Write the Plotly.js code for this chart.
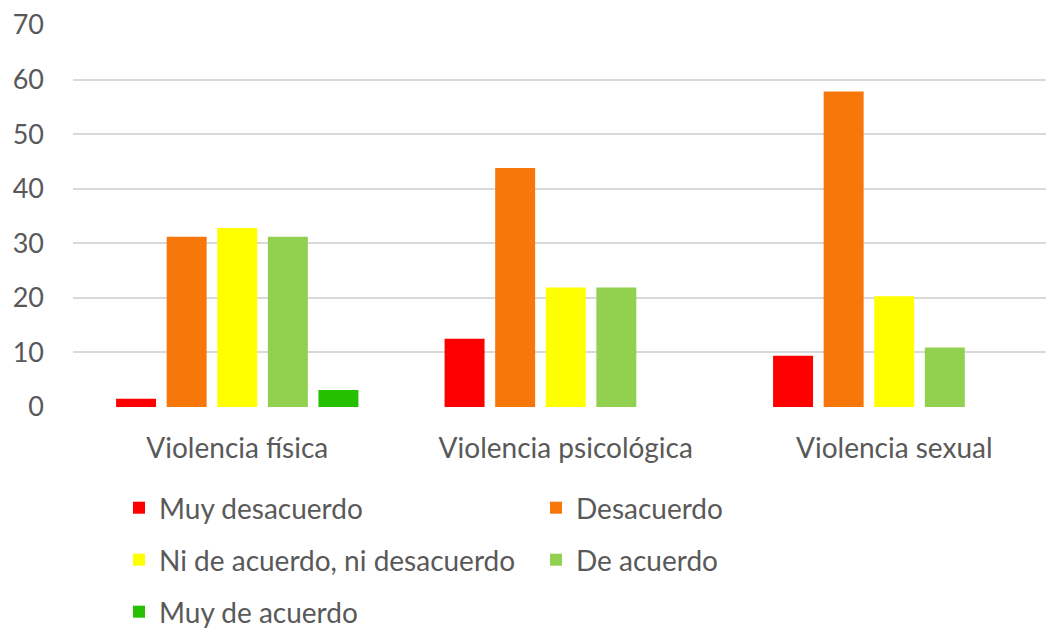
<!DOCTYPE html>
<html>
<head>
<meta charset="utf-8">
<script src="https://cdn.plot.ly/plotly-3.0.1.min.js"></script>
<style>html,body{margin:0;padding:0;background:#fff;}#chart{width:1046px;height:628px;}</style>
</head>
<body>
<div id="chart"></div>
<script>
const categories = ["Violencia física", "Violencia psicológica", "Violencia sexual"];
const seriesNames = ["Muy desacuerdo", "Desacuerdo", "Ni de acuerdo, ni desacuerdo", "De acuerdo", "Muy de acuerdo"];
const muyDesacuerdo = [1.5, 12.5, 9.4];
const desacuerdo = [31.2, 43.8, 57.8];
const niNi = [32.8, 21.9, 20.3];
const deAcuerdo = [31.2, 21.9, 10.9];
const muyDeAcuerdo = [3.1, 0, 0];
const yTicks = [0, 10, 20, 30, 40, 50, 60, 70];

const colors = ["#FF0000", "#F8770A", "#FFFF00", "#92D050", "#25C000"];
const values = [muyDesacuerdo, desacuerdo, niNi, deAcuerdo, muyDeAcuerdo];
const legendIds = ["legend", "legend", "legend2", "legend2", "legend3"];

const traces = seriesNames.map((n, i) => ({
  type: "bar",
  name: n,
  x: categories,
  y: values[i],
  marker: {color: colors[i]},
  legend: legendIds[i],
  hoverinfo: "x+y+name"
}));

const font = {family: "Lato, 'Open Sans', sans-serif", color: "#595959", size: 28};
const tickFontY = {family: "Lato, 'Open Sans', sans-serif", color: "#595959", size: 27};
const legendBase = {
  orientation: "h",
  x: 0.0473, xanchor: "left",
  yanchor: "middle",
  font: font,
  entrywidth: 372, entrywidthmode: "pixels",
  bgcolor: "rgba(0,0,0,0)",
  itemclick: false
};

const layout = {
  width: 1046, height: 628,
  margin: {l: 73, r: 0, t: 25, b: 221, autoexpand: false},
  paper_bgcolor: "#fff", plot_bgcolor: "#fff",
  font: font,
  barmode: "group",
  bargap: 0.23,
  bargroupgap: 0.21,
  xaxis: {
    type: "category",
    range: [-0.5, 2.462],
    showgrid: false,
    zeroline: false,
    showline: false,
    ticks: "",
    tickfont: font,
    ticklabelstandoff: 22,
    automargin: false
  },
  yaxis: {
    range: [0, 70],
    tickvals: yTicks,
    ticktext: yTicks.map(String),
    showgrid: true,
    gridcolor: "#D9D9D9",
    gridwidth: 1.5,
    zeroline: false,
    showline: false,
    ticks: "",
    tickfont: tickFontY,
    ticklabelstandoff: 28,
    automargin: false
  },
  showlegend: true,
  legend: Object.assign({}, legendBase, {y: -0.2644}),
  legend2: Object.assign({}, legendBase, {y: -0.4005}),
  legend3: Object.assign({}, legendBase, {y: -0.5366})
};

Plotly.newPlot("chart", traces, layout, {displayModeBar: false, responsive: false});
</script>
</body>
</html>
